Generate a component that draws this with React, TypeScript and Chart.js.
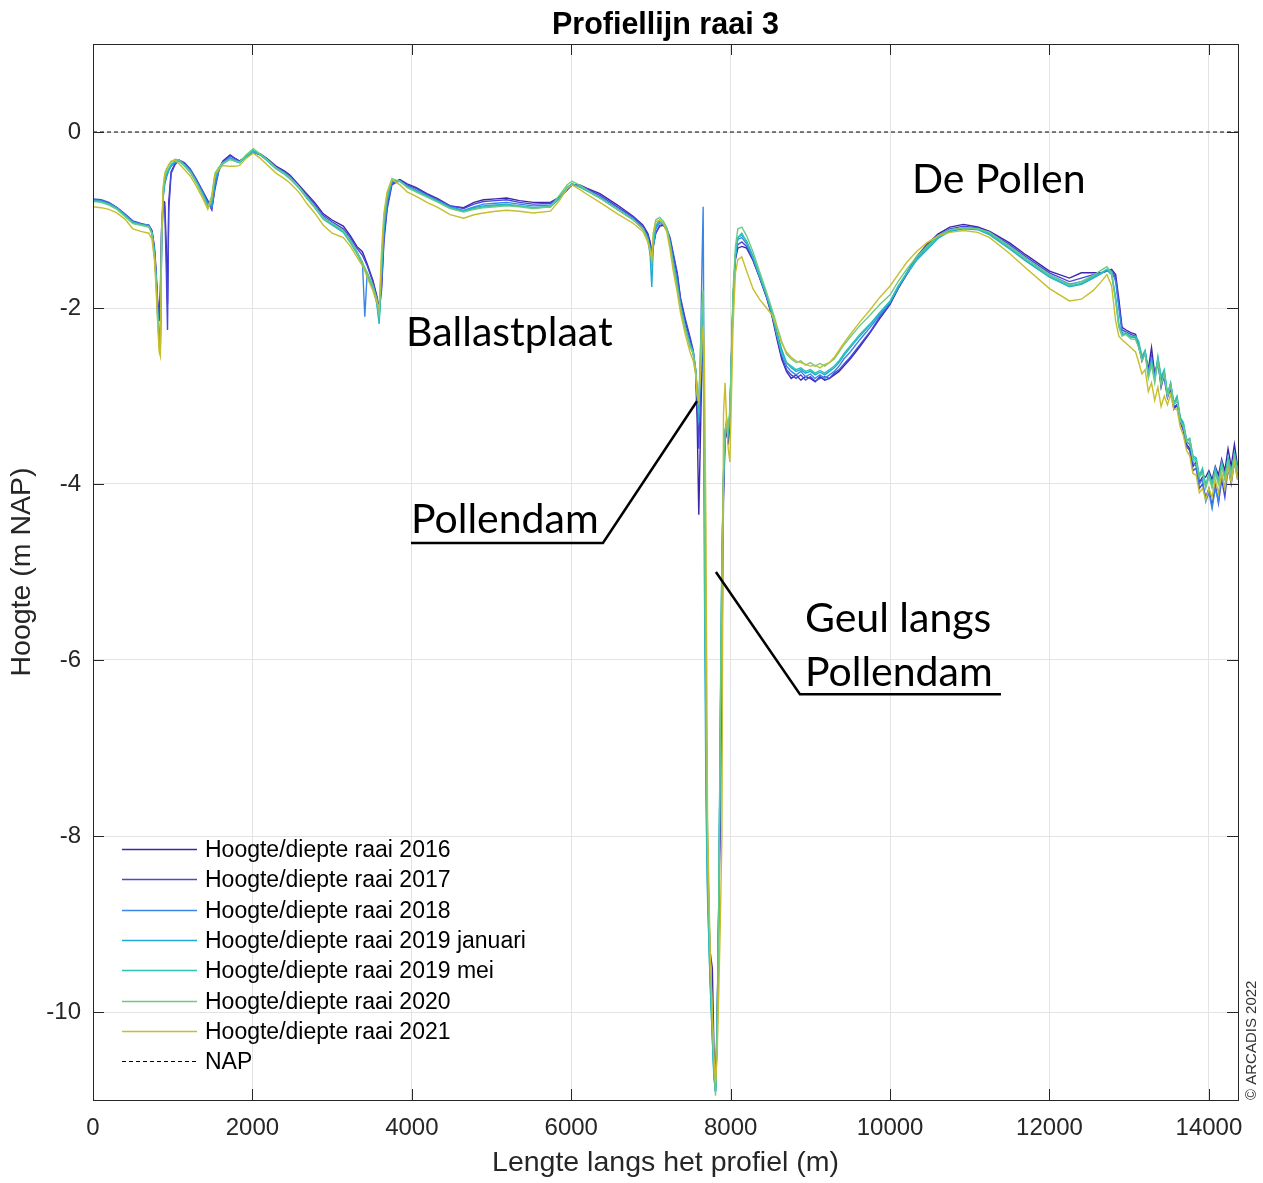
import { useEffect, useRef } from "react";
import { Chart, registerables } from "chart.js";

Chart.register(...registerables);

// Distance along the transect (m), shared by all surveys
const afstand = [
  0, 100, 200, 300, 400, 500, 600, 700, 740, 770, 790, 810, 830, 845, 860, 880, 900, 920, 935, 950, 980,
  1030, 1080, 1150, 1220, 1300, 1380, 1440, 1490, 1530, 1580, 1630, 1720, 1780, 1840, 1920, 2010, 2100, 2180,
  2300, 2400, 2470, 2580, 2680, 2780, 2890, 3000, 3140, 3230, 3310, 3380, 3410, 3440, 3510, 3560, 3590, 3620, 3650, 3690,
  3750, 3850, 3940, 4050, 4190, 4330, 4480, 4650, 4780, 4900, 5050, 5190, 5350, 5520, 5740, 5850, 5950, 6010, 6100, 6200,
  6360, 6580, 6780, 6900, 6960, 6990, 7010, 7030, 7060, 7110, 7160, 7200, 7240, 7280, 7330, 7370, 7430, 7490, 7530,
  7560, 7580, 7600, 7620, 7640, 7655, 7670, 7690, 7710, 7740, 7770, 7790, 7810, 7830, 7850, 7870, 7890, 7910, 7930, 7950,
  7970, 7990, 8010, 8030, 8060, 8090, 8140,
  8200, 8280, 8360, 8450, 8520, 8580, 8640, 8700, 8760, 8820, 8880, 8940, 9000, 9060, 9120, 9180, 9240, 9300, 9360, 9420,
  9500, 9620, 9750, 9870, 10000, 10100, 10210, 10330, 10460, 10600, 10750, 10920, 11100, 11250, 11500, 11710, 12000, 12250,
  12400, 12550, 12650, 12720, 12780, 12830, 12870, 12910, 12960, 13020, 13080,
  13120, 13160, 13200, 13240, 13280, 13320, 13360, 13400, 13440, 13480, 13520, 13560, 13600, 13640, 13680, 13720,
  13760, 13800, 13840, 13880, 13920, 13960, 14000, 14040, 14080, 14120, 14160, 14200, 14240, 14280, 14320, 14360,
];

// Bed level (m NAP) per survey
const raai2016 = [
  -0.77, -0.78, -0.81, -0.86, -0.94, -1.02, -1.05, -1.06, -1.12, -1.3, -1.55, -1.9, -2.1, -1.8, -1.1, -0.78, -0.8, -1.3, -1.95, -0.8, -0.45,
  -0.36, -0.32, -0.36, -0.43, -0.55, -0.68, -0.78, -0.88, -0.62, -0.42, -0.33, -0.26, -0.3, -0.33, -0.28, -0.23, -0.25, -0.3,
  -0.39, -0.44, -0.49, -0.6, -0.7, -0.8, -0.93, -1.0, -1.07, -1.18, -1.3, -1.36, -1.43, -1.5, -1.68, -1.86, -2.0, -1.75, -1.2, -0.85,
  -0.58, -0.54, -0.59, -0.63, -0.7, -0.76, -0.84, -0.86, -0.8, -0.77, -0.76, -0.75, -0.78, -0.8, -0.8, -0.74, -0.65, -0.6, -0.6, -0.64,
  -0.7, -0.83, -0.96, -1.06, -1.15, -1.25, -1.35, -1.28, -1.15, -1.07, -1.06, -1.12, -1.22, -1.4, -1.62, -1.9, -2.15, -2.35, -2.5,
  -2.72, -3.3, -4.35, -3.5, -2.6, -2.3, -3.8, -6.5, -8.3, -9.3, -9.5, -10.4, -10.85, -10.1, -8.8, -7.9, -6.0, -4.2, -3.5, -3.4,
  -3.55, -3.3, -2.6, -1.95, -1.45, -1.32, -1.3,
  -1.32, -1.46, -1.65, -1.88, -2.1, -2.35, -2.58, -2.72, -2.8, -2.76, -2.82, -2.78, -2.8, -2.84, -2.78, -2.82, -2.8, -2.76, -2.72, -2.66,
  -2.58, -2.44, -2.28, -2.12, -1.96, -1.78, -1.6, -1.42, -1.28, -1.16, -1.08, -1.05, -1.08, -1.13, -1.26, -1.4, -1.58, -1.66,
  -1.6, -1.6, -1.6, -1.58, -1.56, -1.62, -1.9, -2.22, -2.25, -2.28, -2.3,
  -2.42, -2.6, -2.5, -2.7, -2.45, -2.75, -2.6, -2.9, -2.75, -3.0, -2.92, -3.15, -3.1, -3.3, -3.38, -3.55,
  -3.6, -3.8, -3.75, -3.98, -3.92, -3.92, -3.85, -3.95, -3.8, -3.9, -3.72, -3.85, -3.6, -3.8, -3.55, -3.8,
];

const raai2017 = [
  -0.76, -0.77, -0.8, -0.86, -0.93, -1.01, -1.04, -1.06, -1.13, -1.33, -1.6, -1.95, -2.15, -1.9, -1.15, -0.8, -0.85, -1.6, -2.25, -0.9, -0.47,
  -0.37, -0.32, -0.35, -0.42, -0.54, -0.68, -0.79, -0.88, -0.65, -0.44, -0.34, -0.27, -0.3, -0.33, -0.28, -0.23, -0.26, -0.31,
  -0.4, -0.45, -0.5, -0.61, -0.71, -0.82, -0.95, -1.02, -1.1, -1.2, -1.32, -1.4, -1.46, -1.52, -1.7, -1.88, -2.05, -1.8, -1.25, -0.88,
  -0.6, -0.55, -0.6, -0.64, -0.71, -0.77, -0.84, -0.87, -0.82, -0.79, -0.78, -0.77, -0.8, -0.82, -0.81, -0.75, -0.66, -0.6, -0.61, -0.65,
  -0.72, -0.85, -0.97, -1.07, -1.17, -1.28, -1.4, -1.3, -1.15, -1.06, -1.05, -1.1, -1.2, -1.38, -1.6, -1.88, -2.12, -2.33, -2.48,
  -2.7, -3.05, -3.6, -3.0, -2.4, -2.1, -3.6, -6.2, -8.1, -9.4, -10.1, -10.6, -10.9, -10.3, -9.0, -7.2, -5.2, -4.0, -3.45, -3.35,
  -3.5, -3.25, -2.55, -1.9, -1.42, -1.28, -1.25,
  -1.3, -1.45, -1.64, -1.87, -2.08, -2.32, -2.55, -2.7, -2.76, -2.8, -2.76, -2.82, -2.78, -2.83, -2.8, -2.78, -2.8, -2.74, -2.7, -2.64,
  -2.56, -2.42, -2.27, -2.1, -1.95, -1.78, -1.62, -1.45, -1.3, -1.18, -1.1, -1.07, -1.09, -1.14, -1.28, -1.42, -1.6, -1.7,
  -1.66, -1.62, -1.6, -1.58, -1.57, -1.66, -1.95, -2.25, -2.27, -2.3, -2.32,
  -2.45, -2.58, -2.52, -2.72, -2.55, -2.8, -2.62, -2.85, -2.8, -3.02, -2.9, -3.12, -3.1, -3.28, -3.4, -3.58,
  -3.62, -3.85, -3.82, -4.05, -4.0, -4.15, -4.05, -4.25, -4.0, -4.22, -3.95, -4.15, -3.82, -4.0, -3.75, -3.95,
];

const raai2018 = [
  -0.77, -0.78, -0.81, -0.86, -0.94, -1.02, -1.05, -1.06, -1.14, -1.36, -1.62, -2.0, -2.3, -2.35, -1.4, -0.75, -0.6, -0.52, -0.48, -0.44, -0.39,
  -0.35, -0.33, -0.37, -0.44, -0.56, -0.7, -0.81, -0.86, -0.6, -0.43, -0.35, -0.29, -0.32, -0.34, -0.28, -0.22, -0.26, -0.31,
  -0.41, -0.46, -0.51, -0.62, -0.73, -0.84, -0.97, -1.04, -1.12, -1.23, -1.36, -1.48, -2.1, -1.6, -1.74, -1.9, -2.1, -1.65, -1.12, -0.8,
  -0.57, -0.56, -0.61, -0.66, -0.72, -0.78, -0.85, -0.89, -0.85, -0.82, -0.81, -0.8, -0.82, -0.84, -0.83, -0.75, -0.64, -0.59, -0.62, -0.66,
  -0.74, -0.87, -0.99, -1.09, -1.2, -1.32, -1.48, -1.28, -1.1, -1.03, -1.05, -1.1, -1.25, -1.46, -1.7, -1.95, -2.2, -2.4, -2.5,
  -2.72, -2.95, -3.1, -2.6, -1.5, -0.85, -3.5, -6.8, -8.5, -9.5, -10.2, -10.7, -10.9, -10.2, -8.9, -6.9, -5.0, -3.95, -3.45, -3.3,
  -3.45, -3.2, -2.55, -1.9, -1.4, -1.22, -1.2,
  -1.27, -1.43, -1.63, -1.86, -2.07, -2.3, -2.5, -2.66, -2.72, -2.76, -2.72, -2.78, -2.75, -2.8, -2.76, -2.8, -2.76, -2.72, -2.66, -2.58,
  -2.5, -2.36, -2.22, -2.08, -1.94, -1.77, -1.6, -1.44, -1.31, -1.19, -1.12, -1.09, -1.1, -1.15, -1.3, -1.44, -1.62, -1.73,
  -1.7, -1.64, -1.6, -1.57, -1.58, -1.7, -2.0, -2.28, -2.3, -2.32, -2.34,
  -2.44, -2.56, -2.5, -2.74, -2.58, -2.78, -2.6, -2.82, -2.75, -3.0, -2.88, -3.1, -3.05, -3.25, -3.35, -3.52,
  -3.55, -3.75, -3.8, -4.0, -3.95, -4.2, -4.1, -4.28, -4.05, -4.2, -3.9, -4.05, -3.75, -3.95, -3.7, -3.9,
];

const raai2019jan = [
  -0.78, -0.79, -0.82, -0.87, -0.95, -1.03, -1.05, -1.07, -1.15, -1.37, -1.64, -2.05, -2.35, -2.45, -1.35, -0.72, -0.56, -0.5, -0.46, -0.43, -0.38,
  -0.34, -0.33, -0.38, -0.45, -0.57, -0.71, -0.83, -0.83, -0.55, -0.42, -0.36, -0.3, -0.33, -0.35, -0.28, -0.22, -0.26, -0.32,
  -0.42, -0.47, -0.52, -0.63, -0.74, -0.85, -0.98, -1.05, -1.13, -1.25, -1.37, -1.5, -1.57, -1.63, -1.77, -1.95, -2.18, -1.6, -1.08, -0.77,
  -0.56, -0.56, -0.62, -0.67, -0.73, -0.79, -0.86, -0.9, -0.86, -0.84, -0.83, -0.82, -0.84, -0.86, -0.85, -0.76, -0.63, -0.59, -0.62, -0.67,
  -0.75, -0.88, -1.0, -1.1, -1.22, -1.4, -1.76, -1.3, -1.08, -1.01, -1.04, -1.1, -1.27, -1.48, -1.73, -1.97, -2.22, -2.42, -2.52,
  -2.72, -2.97, -3.3, -2.7, -2.1, -1.9, -5.0, -7.6, -8.7, -9.6, -10.3, -10.75, -10.9, -10.2, -8.8, -6.7, -4.9, -3.9, -3.4, -3.3,
  -3.42, -3.2, -2.6, -1.9, -1.4, -1.2, -1.17,
  -1.24, -1.41, -1.62, -1.85, -2.06, -2.27, -2.47, -2.62, -2.68, -2.72, -2.7, -2.74, -2.72, -2.76, -2.73, -2.76, -2.72, -2.68, -2.62, -2.54,
  -2.45, -2.32, -2.19, -2.06, -1.93, -1.76, -1.61, -1.46, -1.34, -1.21, -1.13, -1.1, -1.11, -1.17, -1.33, -1.47, -1.65, -1.76,
  -1.73, -1.66, -1.61, -1.57, -1.62, -1.88, -2.18, -2.3, -2.29, -2.33, -2.33,
  -2.42, -2.54, -2.5, -2.76, -2.62, -2.8, -2.58, -2.8, -2.72, -2.98, -2.86, -3.08, -3.02, -3.24, -3.32, -3.5,
  -3.5, -3.7, -3.72, -3.92, -3.85, -4.02, -3.9, -4.02, -3.85, -3.98, -3.78, -3.92, -3.72, -3.88, -3.68, -3.84,
];

const raai2019mei = [
  -0.78, -0.79, -0.82, -0.87, -0.95, -1.03, -1.05, -1.07, -1.15, -1.38, -1.65, -2.05, -2.38, -2.42, -1.3, -0.7, -0.55, -0.48, -0.45, -0.42, -0.37,
  -0.33, -0.33, -0.39, -0.46, -0.58, -0.72, -0.85, -0.78, -0.5, -0.42, -0.36, -0.31, -0.33, -0.35, -0.28, -0.21, -0.26, -0.32,
  -0.42, -0.48, -0.53, -0.63, -0.75, -0.86, -0.99, -1.06, -1.14, -1.26, -1.38, -1.5, -1.56, -1.62, -1.76, -1.92, -2.15, -1.55, -1.05, -0.75,
  -0.55, -0.56, -0.62, -0.67, -0.73, -0.79, -0.86, -0.9, -0.87, -0.85, -0.84, -0.83, -0.84, -0.86, -0.85, -0.75, -0.63, -0.59, -0.62, -0.67,
  -0.75, -0.88, -1.0, -1.1, -1.22, -1.35, -1.5, -1.25, -1.06, -1.0, -1.04, -1.1, -1.28, -1.5, -1.75, -1.98, -2.22, -2.42, -2.5,
  -2.7, -2.95, -3.2, -2.6, -2.0, -1.85, -4.2, -7.0, -8.6, -9.6, -10.3, -10.7, -10.9, -10.2, -8.8, -6.6, -4.8, -3.9, -3.4, -3.3,
  -3.4, -3.2, -2.6, -1.9, -1.4, -1.2, -1.15,
  -1.25, -1.42, -1.63, -1.85, -2.06, -2.3, -2.52, -2.62, -2.66, -2.7, -2.68, -2.72, -2.7, -2.74, -2.71, -2.74, -2.7, -2.66, -2.6, -2.52,
  -2.43, -2.3, -2.18, -2.05, -1.92, -1.75, -1.6, -1.45, -1.33, -1.2, -1.12, -1.09, -1.1, -1.16, -1.32, -1.46, -1.64, -1.75,
  -1.72, -1.65, -1.6, -1.56, -1.62, -1.9, -2.2, -2.3, -2.28, -2.33, -2.32,
  -2.38, -2.55, -2.48, -2.75, -2.6, -2.82, -2.55, -2.78, -2.7, -2.98, -2.85, -3.08, -3.0, -3.25, -3.3, -3.5,
  -3.48, -3.68, -3.7, -3.9, -3.82, -4.02, -3.88, -4.0, -3.82, -3.98, -3.75, -3.92, -3.7, -3.88, -3.65, -3.82,
];

const raai2020 = [
  -0.79, -0.8, -0.83, -0.88, -0.96, -1.04, -1.06, -1.08, -1.16, -1.4, -1.68, -2.1, -2.45, -2.5, -1.25, -0.66, -0.5, -0.44, -0.41, -0.38, -0.34,
  -0.31, -0.32, -0.38, -0.45, -0.58, -0.73, -0.86, -0.72, -0.47, -0.4, -0.35, -0.31, -0.33, -0.34, -0.26, -0.19, -0.25, -0.31,
  -0.41, -0.47, -0.52, -0.62, -0.74, -0.85, -0.98, -1.04, -1.12, -1.24, -1.36, -1.48, -1.54, -1.6, -1.74, -1.9, -2.1, -1.45, -0.98, -0.7,
  -0.53, -0.56, -0.63, -0.68, -0.74, -0.8, -0.87, -0.91, -0.88, -0.86, -0.85, -0.84, -0.85, -0.87, -0.85, -0.72, -0.6, -0.56, -0.6, -0.66,
  -0.75, -0.88, -1.0, -1.1, -1.22, -1.33, -1.45, -1.15, -1.0, -0.97, -1.02, -1.09, -1.28, -1.52, -1.78, -2.0, -2.24, -2.44, -2.52,
  -2.68, -2.9, -3.1, -2.5, -1.95, -1.8, -3.8, -6.5, -8.2, -9.3, -10.1, -10.6, -10.95, -10.3, -9.0, -6.8, -4.9, -3.9, -3.4, -3.25,
  -3.35, -3.15, -2.5, -1.8, -1.3, -1.1, -1.08,
  -1.18, -1.36, -1.58, -1.82, -2.02, -2.2, -2.38, -2.52, -2.58, -2.62, -2.6, -2.65, -2.62, -2.66, -2.63, -2.66, -2.62, -2.58, -2.5, -2.42,
  -2.33, -2.2, -2.08, -1.96, -1.85, -1.7, -1.56, -1.42, -1.3, -1.18, -1.11, -1.09, -1.1, -1.14, -1.3, -1.44, -1.62, -1.74,
  -1.7, -1.63, -1.57, -1.53, -1.6, -1.92, -2.22, -2.32, -2.3, -2.35, -2.36,
  -2.45, -2.6, -2.52, -2.8, -2.65, -2.85, -2.6, -2.88, -2.75, -3.0, -2.88, -3.1, -3.05, -3.28, -3.35, -3.52,
  -3.5, -3.72, -3.75, -3.92, -3.88, -4.05, -3.92, -4.05, -3.88, -4.0, -3.8, -3.95, -3.75, -3.9, -3.7, -3.85,
];

const raai2021 = [
  -0.85, -0.86, -0.88, -0.92, -0.99, -1.1, -1.13, -1.15, -1.22, -1.45, -1.75, -2.15, -2.5, -2.55, -1.2, -0.62, -0.47, -0.42, -0.4, -0.37, -0.33,
  -0.32, -0.36, -0.43, -0.5, -0.62, -0.76, -0.88, -0.75, -0.48, -0.42, -0.38, -0.39, -0.39, -0.38, -0.3, -0.24, -0.3, -0.37,
  -0.47, -0.53, -0.58, -0.68, -0.81, -0.92, -1.06, -1.15, -1.2, -1.3, -1.42, -1.52, -1.58, -1.65, -1.8, -1.93, -2.0, -1.35, -0.92, -0.68,
  -0.54, -0.6, -0.68, -0.73, -0.8, -0.86, -0.94, -0.98, -0.94, -0.92, -0.9, -0.89, -0.9, -0.92, -0.9, -0.78, -0.64, -0.6, -0.65, -0.71,
  -0.8, -0.93, -1.04, -1.13, -1.25, -1.35, -1.45, -1.15, -1.02, -1.0, -1.05, -1.14, -1.34, -1.58, -1.82, -2.05, -2.3, -2.5, -2.6,
  -2.75, -3.0, -3.05, -2.8, -2.4, -2.2, -2.5, -4.5, -7.8, -9.2, -10.0, -10.5, -10.8, -10.5, -9.8, -9.0, -8.0, -3.2, -2.85, -3.3,
  -3.6, -3.75, -3.0, -2.2, -1.6, -1.45, -1.42,
  -1.58, -1.78, -1.9, -2.0, -2.08, -2.22, -2.4, -2.5, -2.56, -2.6, -2.62, -2.64, -2.66, -2.65, -2.68, -2.64, -2.62, -2.56, -2.48, -2.4,
  -2.3, -2.16, -2.02, -1.88, -1.75, -1.62, -1.48, -1.36, -1.26, -1.18, -1.14, -1.12, -1.14, -1.2, -1.38, -1.55, -1.78, -1.92,
  -1.9, -1.8, -1.7, -1.62, -1.75, -2.15, -2.32, -2.36, -2.4, -2.45, -2.5,
  -2.62, -2.75, -2.7, -2.95, -2.85, -3.05, -2.9, -3.12, -3.0, -3.1, -2.98, -3.15, -3.15, -3.35, -3.45, -3.62,
  -3.68, -3.88, -3.9, -4.1, -4.05, -4.18, -4.05, -4.15, -3.95, -4.1, -3.88, -4.05, -3.82, -3.98, -3.75, -3.95,
];

const napNiveau = 0;

const xTicks = [0, 2000, 4000, 6000, 8000, 10000, 12000, 14000];
const yTicks = [-10, -8, -6, -4, -2, 0];
const xMin = 0;
const xMax = 14365;
const yMin = -11;
const yMax = 1;

const surveys = [
  { label: "Hoogte/diepte raai 2016", values: raai2016, color: "#3e26a8" },
  { label: "Hoogte/diepte raai 2017", values: raai2017, color: "#4747dc" },
  { label: "Hoogte/diepte raai 2018", values: raai2018, color: "#3a86e8" },
  { label: "Hoogte/diepte raai 2019 januari", values: raai2019jan, color: "#1ea9d6" },
  { label: "Hoogte/diepte raai 2019 mei", values: raai2019mei, color: "#2cc2b4" },
  { label: "Hoogte/diepte raai 2020", values: raai2020, color: "#6cca84" },
  { label: "Hoogte/diepte raai 2021", values: raai2021, color: "#c6be2c" },
];

// Place names written onto the plot, anchored in data units (left edge, baseline)
const placeNames = [
  { text: "De Pollen", x: 10274, y: -0.69 },
  { text: "Ballastplaat", x: 3927, y: -2.43 },
  { text: "Pollendam", x: 3989, y: -4.56 },
  { text: "Geul langs", x: 8932, y: -5.68 },
  { text: "Pollendam", x: 8932, y: -6.3 },
];

// Leader lines from the names to the features
const leaderLines = [
  [[3989, -4.67], [6398, -4.67], [7577, -3.06]],
  [[7815, -5.0], [8869, -6.39], [11391, -6.39]],
];

const SANS = "'Liberation Sans', Arial, Helvetica, sans-serif";
const TEXT = "#262626";
const TICK_LEN = 11;

const decorPlugin = {
  id: "raaiDecor",
  afterDraw(chart: any) {
    const { ctx, chartArea: a, scales } = chart;
    const xs = scales.x;
    const ys = scales.y;
    ctx.save();

    // axes box
    ctx.strokeStyle = TEXT;
    ctx.lineWidth = 1;
    ctx.setLineDash([]);
    ctx.strokeRect(Math.round(a.left) + 0.5, Math.round(a.top) + 0.5, Math.round(a.right - a.left), Math.round(a.bottom - a.top));

    // inward tick marks on all four sides
    ctx.beginPath();
    for (const v of xTicks) {
      const px = Math.round(xs.getPixelForValue(v)) + 0.5;
      ctx.moveTo(px, a.bottom);
      ctx.lineTo(px, a.bottom - TICK_LEN);
      ctx.moveTo(px, a.top);
      ctx.lineTo(px, a.top + TICK_LEN);
    }
    for (const v of yTicks) {
      const py = Math.round(ys.getPixelForValue(v)) + 0.5;
      ctx.moveTo(a.left, py);
      ctx.lineTo(a.left + TICK_LEN, py);
      ctx.moveTo(a.right, py);
      ctx.lineTo(a.right - TICK_LEN, py);
    }
    ctx.stroke();

    // title
    ctx.fillStyle = "#000";
    ctx.font = `bold 30.5px ${SANS}`;
    ctx.textAlign = "center";
    ctx.textBaseline = "alphabetic";
    ctx.fillText("Profiellijn raai 3", (a.left + a.right) / 2, 34);

    // place names and leader lines
    ctx.font = "41px Lato, 'Open Sans', sans-serif";
    ctx.textAlign = "left";
    for (const n of placeNames) {
      ctx.fillText(n.text, xs.getPixelForValue(n.x), ys.getPixelForValue(n.y));
    }
    ctx.strokeStyle = "#000";
    ctx.lineWidth = 2.5;
    for (const line of leaderLines) {
      ctx.beginPath();
      line.forEach(([x, y], i) => {
        const px = xs.getPixelForValue(x);
        const py = ys.getPixelForValue(y);
        if (i === 0) ctx.moveTo(px, py);
        else ctx.lineTo(px, py);
      });
      ctx.stroke();
    }

    // legend (no frame), bottom left inside the axes
    const rowH = 30.3;
    const top = 849;
    ctx.font = `23px ${SANS}`;
    ctx.textBaseline = "middle";
    chart.data.datasets.forEach((ds: any, i: number) => {
      const y = Math.round(top + i * rowH) + 0.5;
      ctx.beginPath();
      ctx.strokeStyle = ds.borderColor;
      ctx.lineWidth = ds.borderWidth;
      ctx.setLineDash(ds.borderDash || []);
      ctx.moveTo(122, y);
      ctx.lineTo(197, y);
      ctx.stroke();
      ctx.setLineDash([]);
      ctx.fillStyle = "#000";
      ctx.fillText(ds.label, 205, y + 1);
    });

    // copyright, vertical along the right edge
    ctx.save();
    ctx.translate(1252, a.bottom);
    ctx.rotate(-Math.PI / 2);
    ctx.font = `15px ${SANS}`;
    ctx.fillStyle = "#333";
    ctx.textAlign = "left";
    ctx.textBaseline = "middle";
    ctx.fillText("\u00A9 ARCADIS 2022", 0, 0);
    ctx.restore();

    ctx.restore();
  },
};

export default function App() {
  const canvasRef = useRef<HTMLCanvasElement | null>(null);

  useEffect(() => {
    const canvas = canvasRef.current;
    if (!canvas) return;

    const datasets: any[] = surveys.map((s, i) => ({
      label: s.label,
      data: afstand.map((x, j) => ({ x, y: s.values[j] })),
      borderColor: s.color,
      backgroundColor: s.color,
      borderWidth: 1.4,
      pointRadius: 0,
      tension: 0,
      order: surveys.length - i,
    }));
    datasets.push({
      label: "NAP",
      data: [
        { x: xMin, y: napNiveau },
        { x: xMax, y: napNiveau },
      ],
      borderColor: "#000",
      backgroundColor: "#000",
      borderWidth: 1,
      borderDash: [4, 3],
      pointRadius: 0,
      order: 0,
    });

    const chart = new Chart(canvas, {
      type: "line",
      data: { datasets },
      options: {
        animation: false,
        responsive: false,
        devicePixelRatio: 1,
        layout: { padding: { top: 44, right: 25, left: 0, bottom: 0 } },
        plugins: {
          legend: { display: false },
          title: { display: false },
          tooltip: { enabled: false },
        },
        scales: {
          x: {
            type: "linear",
            min: xMin,
            max: xMax,
            afterBuildTicks: (s: any) => {
              s.ticks = xTicks.map((v) => ({ value: v }));
            },
            afterFit: (s: any) => {
              s.height = 83;
            },
            grid: { color: "#e3e3e3", lineWidth: 1, drawTicks: false },
            border: { display: false },
            ticks: {
              font: { family: SANS, size: 24 },
              color: TEXT,
              padding: 14,
              maxRotation: 0,
              autoSkip: false,
              callback: (v: any) => String(v),
            },
            title: {
              display: true,
              text: "Lengte langs het profiel (m)",
              font: { family: SANS, size: 28.5, lineHeight: 1 },
              color: TEXT,
              padding: { top: 0, bottom: 6 },
            },
          },
          y: {
            type: "linear",
            min: yMin,
            max: yMax,
            afterBuildTicks: (s: any) => {
              s.ticks = yTicks.map((v) => ({ value: v }));
            },
            afterFit: (s: any) => {
              s.width = 93;
            },
            grid: { color: "#e3e3e3", lineWidth: 1, drawTicks: false },
            border: { display: false },
            ticks: {
              font: { family: SANS, size: 24 },
              color: TEXT,
              padding: 12,
              autoSkip: false,
              callback: (v: any) => String(v),
            },
            title: {
              display: true,
              text: "Hoogte (m NAP)",
              font: { family: SANS, size: 28.5, lineHeight: 1 },
              color: TEXT,
              padding: { top: 8, bottom: 0 },
            },
          },
        },
      } as any,
      plugins: [decorPlugin],
    });

    return () => chart.destroy();
  }, []);

  return (
    <div style={{ position: "absolute", left: 0, top: 0, width: 1263, height: 1183, background: "#fff" }}>
      <canvas ref={canvasRef} width={1263} height={1183} style={{ display: "block" }} />
    </div>
  );
}
